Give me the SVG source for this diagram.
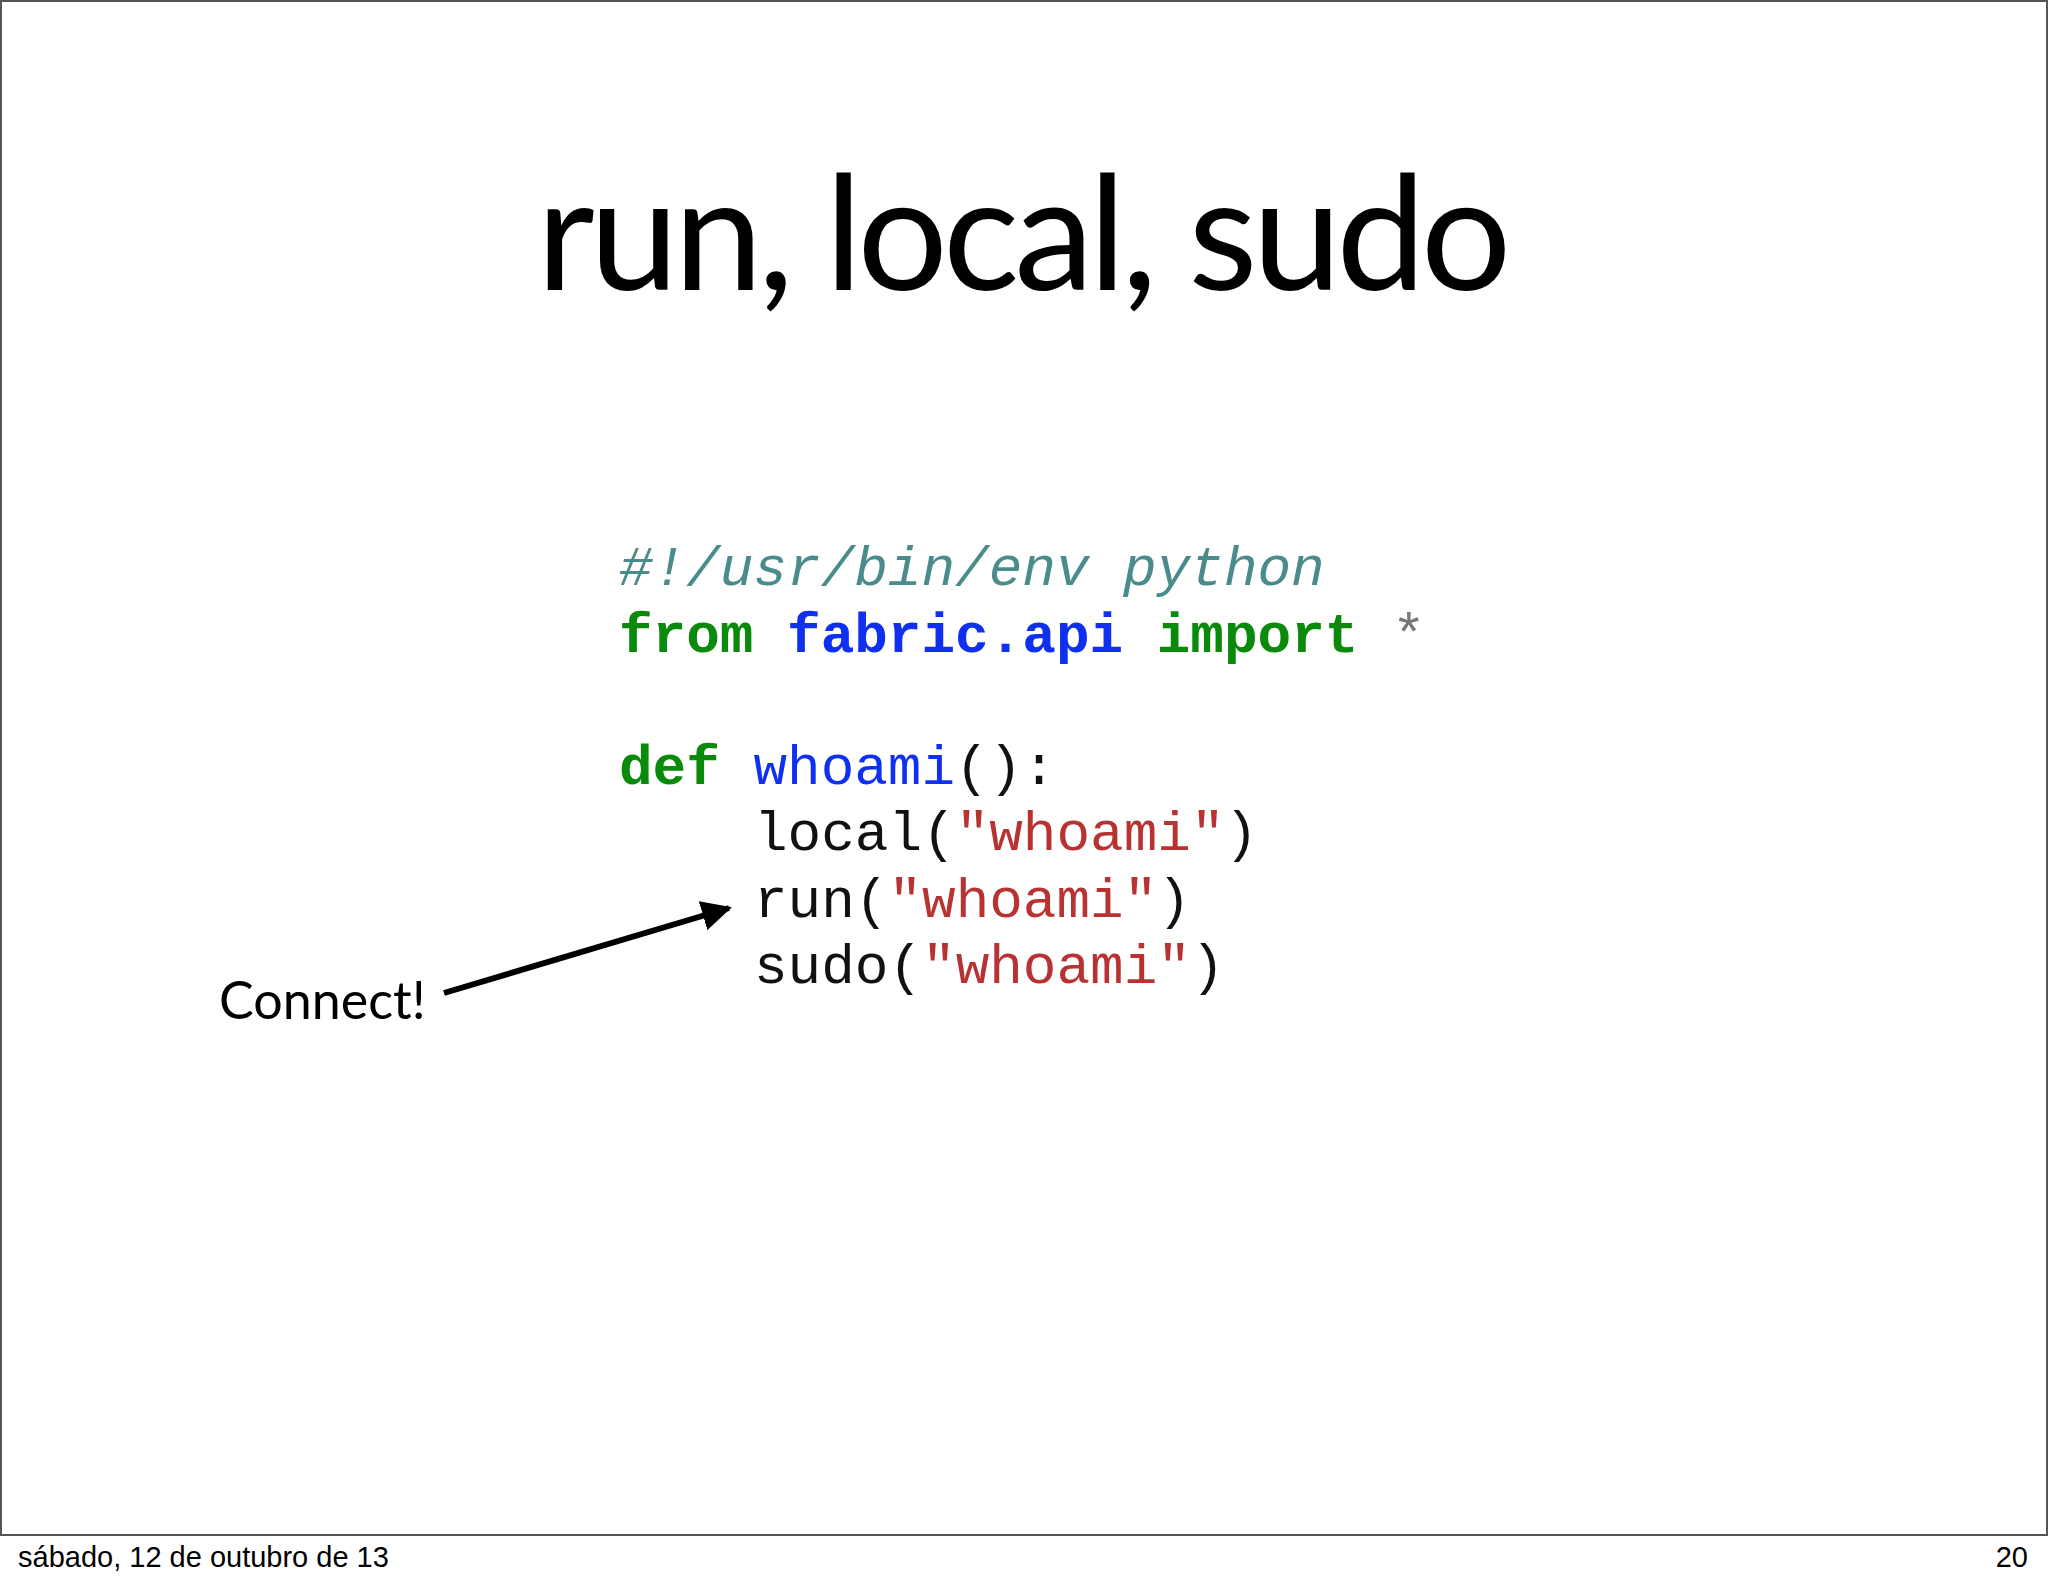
<svg xmlns="http://www.w3.org/2000/svg" width="2048" height="1587" viewBox="0 0 2048 1587">
<defs>
<style>
.code{font-family:"Liberation Mono",monospace;font-size:56px}
.b{font-weight:bold}
.g{fill:#0a8a0a}
.bl{fill:#1030f0}
.r{fill:#b83232}
.k{fill:#111}
.c{fill:#4a8c8c;font-style:italic}
</style>
<marker id="ah" viewBox="0 0 10 10" refX="9" refY="5" markerWidth="5" markerHeight="5" orient="auto" markerUnits="strokeWidth"><path d="M0,0 L10,5 L0,10 z" fill="#000"/></marker>
</defs>
<rect x="0" y="0" width="2048" height="1587" fill="#fff"/>
<rect x="1" y="1" width="2046" height="1534" fill="none" stroke="#555" stroke-width="2"/>
<text x="1024" y="290" text-anchor="middle" font-family="Lato, sans-serif" font-size="160" textLength="975" fill="#000">run, local, sudo</text>
<g id="code">
<text class="code c" x="619" y="585">#!/usr/bin/env python</text>
<text class="code" x="619" y="652"><tspan class="b g">from</tspan> <tspan class="b bl">fabric.api</tspan> <tspan class="b g">import</tspan> <tspan fill="#777">*</tspan></text>
<text class="code" x="619" y="784"><tspan class="b g">def</tspan> <tspan class="bl">whoami</tspan><tspan class="k">():</tspan></text>
<text class="code k" x="754" y="850">local(<tspan class="r">"whoami"</tspan>)</text>
<text class="code k" x="754" y="917">run(<tspan class="r">"whoami"</tspan>)</text>
<text class="code k" x="754" y="983">sudo(<tspan class="r">"whoami"</tspan>)</text>
</g>
<g id="label"><text x="219" y="1019" font-family="Lato, sans-serif" font-size="52" fill="#000">Connect!</text></g>
<g id="connectors"><line x1="444" y1="993" x2="729" y2="908" stroke="#000" stroke-width="6" marker-end="url(#ah)"/></g>
<text x="18" y="1567" font-family="Liberation Sans, sans-serif" font-size="29" fill="#000">sábado, 12 de outubro de 13</text>
<text x="2028" y="1567" text-anchor="end" font-family="Liberation Sans, sans-serif" font-size="29" fill="#000">20</text>
</svg>
